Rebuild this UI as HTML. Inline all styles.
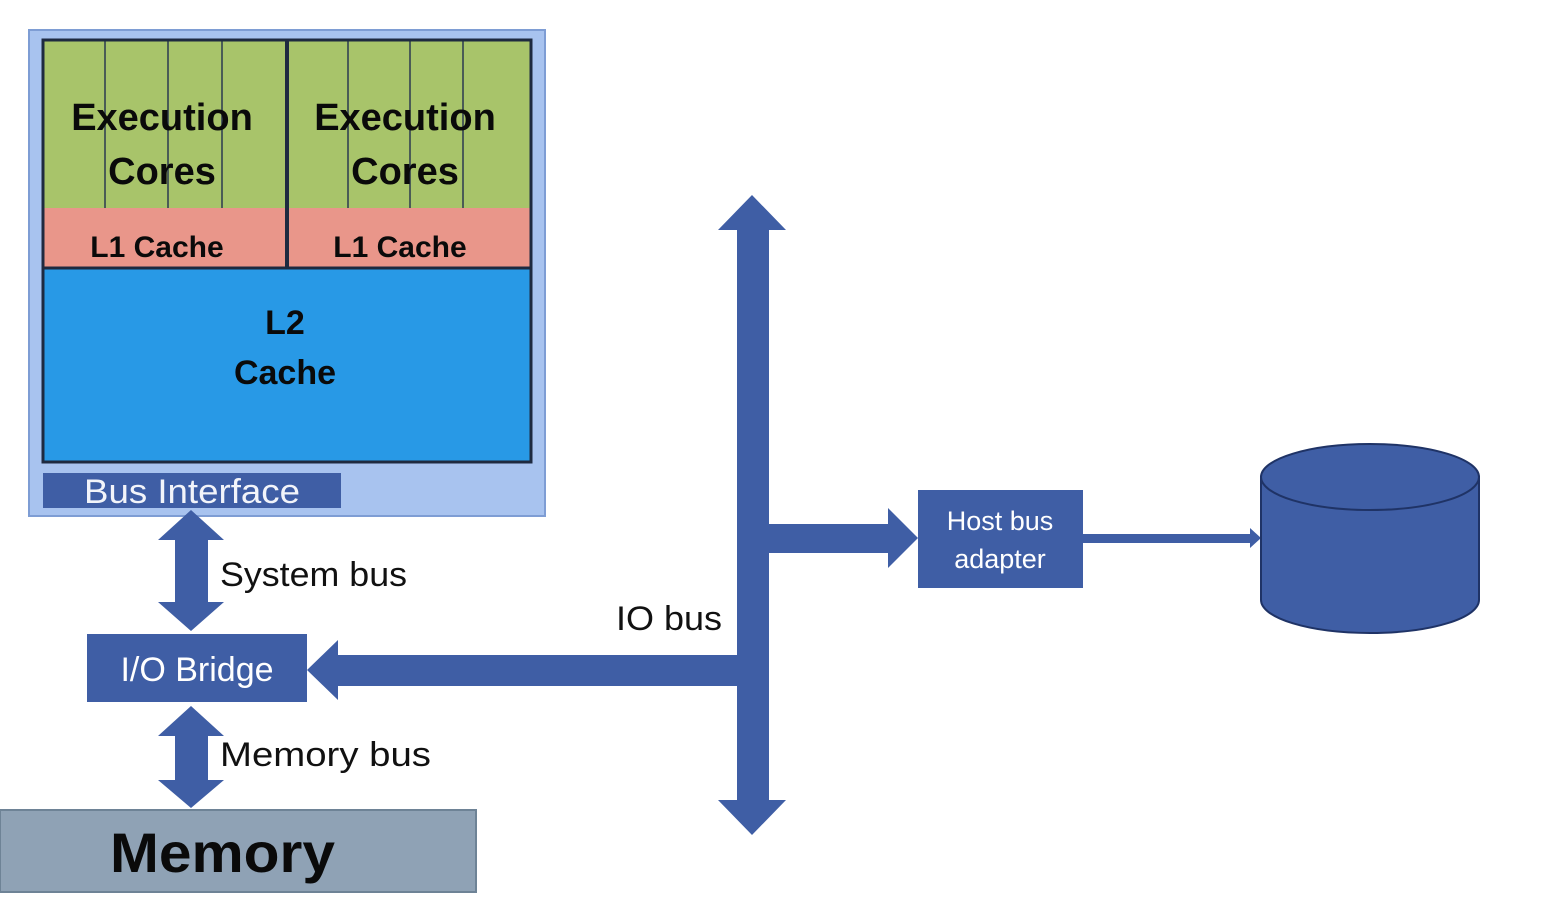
<!DOCTYPE html>
<html><head><style>
html,body{margin:0;padding:0;background:#fff;}
svg{display:block;}
text{font-family:"Liberation Sans",sans-serif;}
</style></head><body>
<svg width="1546" height="912" viewBox="0 0 1546 912" xmlns="http://www.w3.org/2000/svg">
<rect width="1546" height="912" fill="#fff"/>
<rect x="29" y="30" width="516" height="486" fill="#a8c3ef" stroke="#7e9dd4" stroke-width="2"/>
<rect x="43" y="40" width="488" height="168" fill="#a8c46a"/>
<rect x="43" y="208" width="488" height="60" fill="#e9968a"/>
<rect x="43" y="268" width="488" height="194" fill="#2899e6"/>
<g stroke="#2a3a50" stroke-width="1.5">
<line x1="105" y1="40" x2="105" y2="208"/><line x1="168" y1="40" x2="168" y2="208"/><line x1="222" y1="40" x2="222" y2="208"/>
<line x1="348" y1="40" x2="348" y2="208"/><line x1="410" y1="40" x2="410" y2="208"/><line x1="463" y1="40" x2="463" y2="208"/>
</g>
<rect x="43" y="40" width="488" height="422" fill="none" stroke="#1e2a40" stroke-width="3"/>
<line x1="43" y1="268" x2="531" y2="268" stroke="#1e2a40" stroke-width="3"/>
<line x1="287" y1="40" x2="287" y2="268" stroke="#1e2a40" stroke-width="4"/>
<g font-weight="bold" fill="#0a0a0a" text-anchor="middle">
<text x="162" y="130" font-size="38">Execution</text>
<text x="162" y="184" font-size="38">Cores</text>
<text x="405" y="130" font-size="38">Execution</text>
<text x="405" y="184" font-size="38">Cores</text>
<text x="157" y="257" font-size="30">L1 Cache</text>
<text x="400" y="257" font-size="30">L1 Cache</text>
<text x="285" y="334" font-size="34">L2</text>
<text x="285" y="384" font-size="34">Cache</text>
</g>
<rect x="43" y="473" width="298" height="35" fill="#3f5ea5"/>
<text x="84" y="503" font-size="34" fill="#f2f4fa" textLength="216" lengthAdjust="spacingAndGlyphs">Bus Interface</text>
<g fill="#3f5ea5">
<polygon points="191,510 224,540 208,540 208,602 224,602 191,631 158,602 175,602 175,540 158,540"/>
<polygon points="191,706 224,736 208,736 208,780 224,780 191,808 158,780 175,780 175,736 158,736"/>
<polygon points="752,195 786,230 769,230 769,800 786,800 752,835 718,800 737,800 737,230 718,230"/>
<polygon points="737,655 338,655 338,640 307,670 338,700 338,686 737,686"/>
<polygon points="769,524 888,524 888,508 918,538 888,568 888,553 769,553"/>
<polygon points="1083,534 1250,534 1250,528 1261,538 1250,548 1250,543 1083,543"/>
</g>
<rect x="87" y="634" width="220" height="68" fill="#3f5ea5"/>
<text x="197" y="681" font-size="34" fill="#fff" text-anchor="middle">I/O Bridge</text>
<rect x="918" y="490" width="165" height="98" fill="#3f5ea5"/>
<text x="1000" y="530" font-size="27" fill="#fff" text-anchor="middle">Host bus</text>
<text x="1000" y="568" font-size="27" fill="#fff" text-anchor="middle">adapter</text>
<rect x="0" y="810" width="476" height="82" fill="#8fa2b5" stroke="#6e8396" stroke-width="2"/>
<text x="110" y="872" font-size="56" font-weight="bold" fill="#0a0a0a" textLength="225" lengthAdjust="spacingAndGlyphs">Memory</text>
<g font-size="34" fill="#111">
<text x="220" y="586" textLength="187" lengthAdjust="spacingAndGlyphs">System bus</text>
<text x="616" y="630" textLength="106" lengthAdjust="spacingAndGlyphs">IO bus</text>
<text x="220" y="766" textLength="211" lengthAdjust="spacingAndGlyphs">Memory bus</text>
</g>
<path d="M1261,477 L1261,600 A109,33 0 0 0 1479,600 L1479,477 Z" fill="#3f5ea5" stroke="#1f3366" stroke-width="2"/>
<ellipse cx="1370" cy="477" rx="109" ry="33" fill="#3f5ea5" stroke="#1f3366" stroke-width="2"/>
</svg>
</body></html>
